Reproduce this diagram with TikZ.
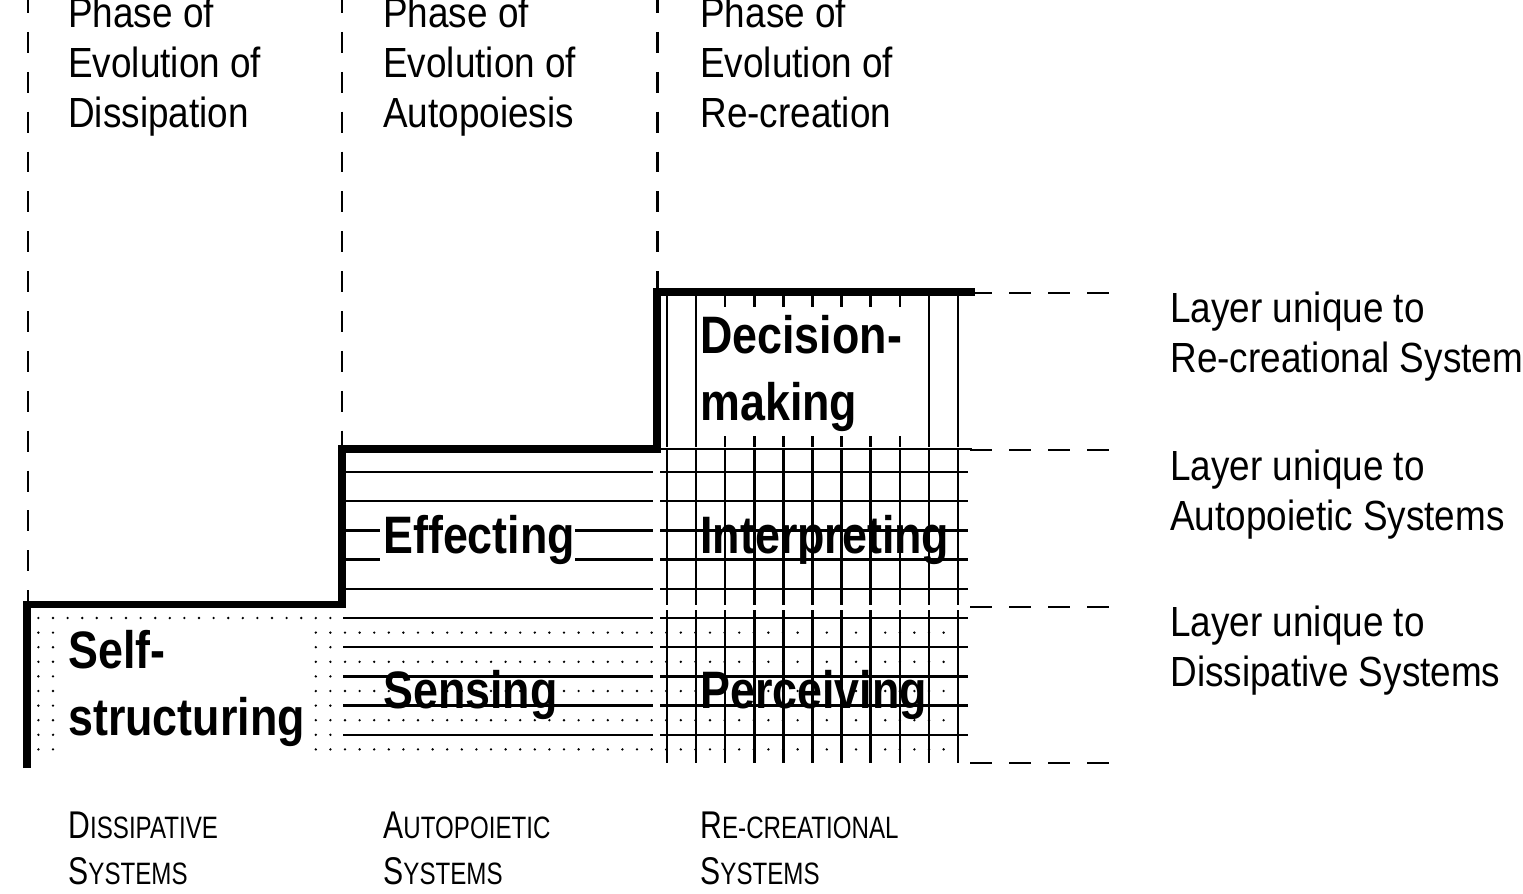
\documentclass[tikz,border=0pt]{standalone}
\usepackage{fontspec}
\setmainfont{Liberation Sans}
\newfontfamily\phasefont[FakeStretch=0.875]{Liberation Sans}
\newfontfamily\layerfont[FakeStretch=0.85]{Liberation Sans}
\newfontfamily\systemfont[FakeStretch=0.78]{Liberation Sans}
\newcommand\fakesc[2]{{\fontsize{22}{26}\selectfont #1}{\fontsize{17.6}{26}\selectfont #2}}

\begin{document}
\begin{tikzpicture}[x=0.02cm,y=-0.02cm,
    stepline/.style={line width=4pt},
    phaseline/.style={line width=1.7pt,dash pattern=on 11.9pt off 10.8pt},
    layerline/.style={line width=1.6pt,dash pattern=on 12.5pt off 9.7pt},
    hatch/.style={line width=1.4pt},
    phase/.style={anchor=base west,inner sep=0pt,align=left,
      font=\phasefont\fontsize{24}{28.45}\selectfont},
    layer/.style={anchor=base west,inner sep=0pt,align=left,
      font=\layerfont\bfseries\fontsize{30}{38}\selectfont},
    system/.style={anchor=base west,inner sep=0pt,align=left,
      font=\systemfont\fontsize{22}{26}\selectfont}]
  \useasboundingbox (0,0) rectangle (1523,893);
  % dotted fill
  \foreach \i in {0,...,20}
    \foreach \j in {0,...,9}
      \fill (38.4+14.6*\i,618+14.6*\j) circle (0.75pt);
  \foreach \i in {21,...,62}
    \foreach \j in {1,3,5,7,9}
      \fill (38.4+14.6*\i,618+14.6*\j) circle (0.75pt);
  % horizontal hatching
  \foreach \i in {0,...,9} {
    \draw[hatch] (343,472+29.2*\i) -- (653,472+29.2*\i);
    \draw[hatch] (660,472+29.2*\i) -- (968,472+29.2*\i);
  }
  % vertical hatching
  \foreach \k in {0,...,10} {
    \draw[hatch] (667+29.1*\k,294) -- (667+29.1*\k,447);
    \draw[hatch] (667+29.1*\k,449) -- (667+29.1*\k,605);
    \draw[hatch] (667+29.1*\k,610) -- (667+29.1*\k,763);
  }
  \draw[hatch] (657,449) -- (972,449);
  % clear ground behind some labels
  \fill[white] (60,625) rectangle (308,770);
  \fill[white] (380,505) rectangle (575,585);
  \fill[white] (705,307) rectangle (916,436);
  % steps
  \draw[stepline] (27,768) |- (342,604) |- (657,449) |- (975,292);
  % phase borders
  \draw[phaseline] (28,-8) -- (28,602);
  \draw[phaseline] (342,-8) -- (342,447);
  \draw[phaseline] (657,-8) -- (657,290);
  % layer borders
  \foreach \y in {293,450,607,763}
    \draw[layerline] (970,\y) -- (1110,\y);

  \node[phase] (dissphase) at (68,127) {Phase of\\Evolution of\\Dissipation};
  \node[phase] (autophase) at (383,127) {Phase of\\Evolution of\\Autopoiesis};
  \node[phase] (recrphase) at (700,127) {Phase of\\Evolution of\\Re-creation};

  \node[layer] (selfstr) at (68,735) {Self-\\structuring};
  \node[layer] (effect) at (383,553) {Effecting};
  \node[layer] (sense) at (383,708) {Sensing};
  \node[layer] (decide) at (700,420) {Decision-\\making};
  \node[layer] (interpret) at (700,553) {Interpreting};
  \node[layer] (perceive) at (700,708) {Perceiving};

  \node[phase] (recrlayer) at (1170,372) {Layer unique to\\Re-creational Systems};
  \node[phase] (autolayer) at (1170,530) {Layer unique to\\Autopoietic Systems};
  \node[phase] (disslayer) at (1170,686) {Layer unique to\\Dissipative Systems};

  \node[system] (disssys) at (68,884) {\fakesc{D}{ISSIPATIVE}\\\fakesc{S}{YSTEMS}};
  \node[system] (autosys) at (383,884) {\fakesc{A}{UTOPOIETIC}\\\fakesc{S}{YSTEMS}};
  \node[system] (recrsys) at (700,884) {\fakesc{R}{E-CREATIONAL}\\\fakesc{S}{YSTEMS}};
\end{tikzpicture}
\end{document}
